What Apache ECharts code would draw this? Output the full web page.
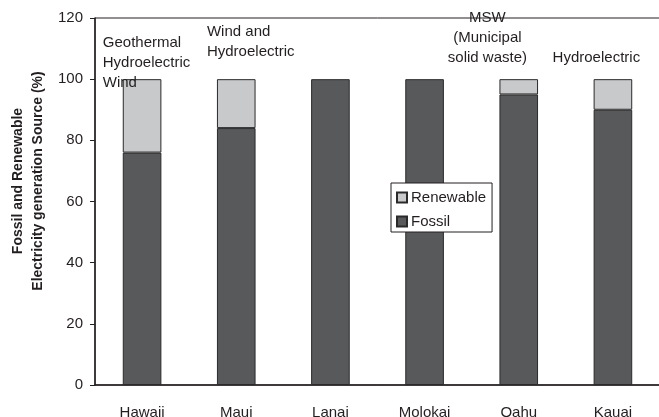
<!DOCTYPE html>
<html>
<head>
<meta charset="utf-8">
<script src="https://cdn.jsdelivr.net/npm/echarts@6/dist/echarts.min.js"></script>
<style>
  html, body { margin: 0; padding: 0; background: #fff; }
  #main { width: 659px; height: 417px; }
</style>
</head>
<body>
<div id="main"></div>
<script>
// islands and shares of generation (%)
var islands = ['Hawaii', 'Maui', 'Lanai', 'Molokai', 'Oahu', 'Kauai'];
var fossil = [76, 84, 100, 100, 95, 90];
var renewable = [24, 16, 0, 0, 5, 10];
var renewableSources = [
    'Geothermal\nHydroelectric\nWind',
    'Wind and\nHydroelectric',
    '',
    '',
    'MSW\n(Municipal\nsolid waste)',
    'Hydroelectric'
];
var yTicks = [0, 20, 40, 60, 80, 100, 120];

// where each note sits, relative to the top-left of its bar
var notePlace = [
    { position: [-20, -46], align: 'left' },
    { position: [-10, -57], align: 'left' },
    null,
    null,
    { position: [-12, -71], align: 'center' },
    { position: [-41, -31], align: 'left' }
];

var ink = '#231f20';
var font = 'Liberation Sans, Arial, sans-serif';

var myChart = echarts.init(document.getElementById('main'));

var renewableData = renewable.map(function (v, i) {
    var p = notePlace[i];
    return {
        value: v,
        itemStyle: v === 0 ? { borderWidth: 0 } : undefined,
        label: p ? {
            show: true,
            formatter: renewableSources[i],
            position: p.position,
            align: p.align,
            verticalAlign: 'top'
        } : { show: false }
    };
});

var option = {
    animation: false,
    backgroundColor: '#fff',
    textStyle: { fontFamily: font },
    grid: {
        left: 95,
        top: 18,
        right: -1,
        bottom: 32,
        outerBoundsMode: 'none',
        containLabel: false,
        show: true,
        borderColor: ink,
        borderWidth: 1
    },
    legend: {
        data: ['Renewable', 'Fossil'],
        orient: 'vertical',
        left: 391,
        top: 183,
        width: 102,
        icon: 'rect',
        itemWidth: 10,
        itemHeight: 10,
        itemGap: 9,
        padding: [7, 6, 3, 5],
        backgroundColor: '#fff',
        borderColor: ink,
        borderWidth: 1,
        textStyle: { fontSize: 15, color: ink, fontFamily: font, padding: [0, 0, 0, -1] }
    },
    xAxis: {
        type: 'category',
        data: islands,
        axisLine: { lineStyle: { color: ink, width: 1.5 } },
        axisTick: { length: 5, lineStyle: { color: ink } },
        axisLabel: { fontSize: 15, color: ink, margin: 20, fontFamily: font }
    },
    yAxis: {
        type: 'value',
        min: yTicks[0],
        max: yTicks[yTicks.length - 1],
        interval: 20,
        splitLine: { show: false },
        axisLine: { show: true, lineStyle: { color: ink, width: 1.5 } },
        axisTick: { show: true, length: 5, lineStyle: { color: ink } },
        axisLabel: { fontSize: 15, color: ink, margin: 12, padding: [5, 0, 0, 0], fontFamily: font }
    },
    graphic: [{
        type: 'text',
        x: 28,
        y: 181,
        rotation: Math.PI / 2,
        style: {
            text: 'Fossil and Renewable\nElectricity generation Source (%)',
            font: 'bold 14px ' + font,
            fill: ink,
            align: 'center',
            verticalAlign: 'middle',
            lineHeight: 20
        }
    }],
    series: [
        {
            name: 'Fossil',
            type: 'bar',
            stack: 'total',
            barWidth: '41%',
            data: fossil,
            itemStyle: { color: '#58595b', borderColor: '#2a2a2a', borderWidth: 1 }
        },
        {
            name: 'Renewable',
            type: 'bar',
            stack: 'total',
            barWidth: '41%',
            data: renewableData,
            itemStyle: { color: '#c8c9cb', borderColor: '#2a2a2a', borderWidth: 1 },
            label: {
                fontSize: 15,
                color: ink,
                lineHeight: 20,
                fontFamily: font
            }
        }
    ]
};

myChart.setOption(option);
</script>
</body>
</html>
